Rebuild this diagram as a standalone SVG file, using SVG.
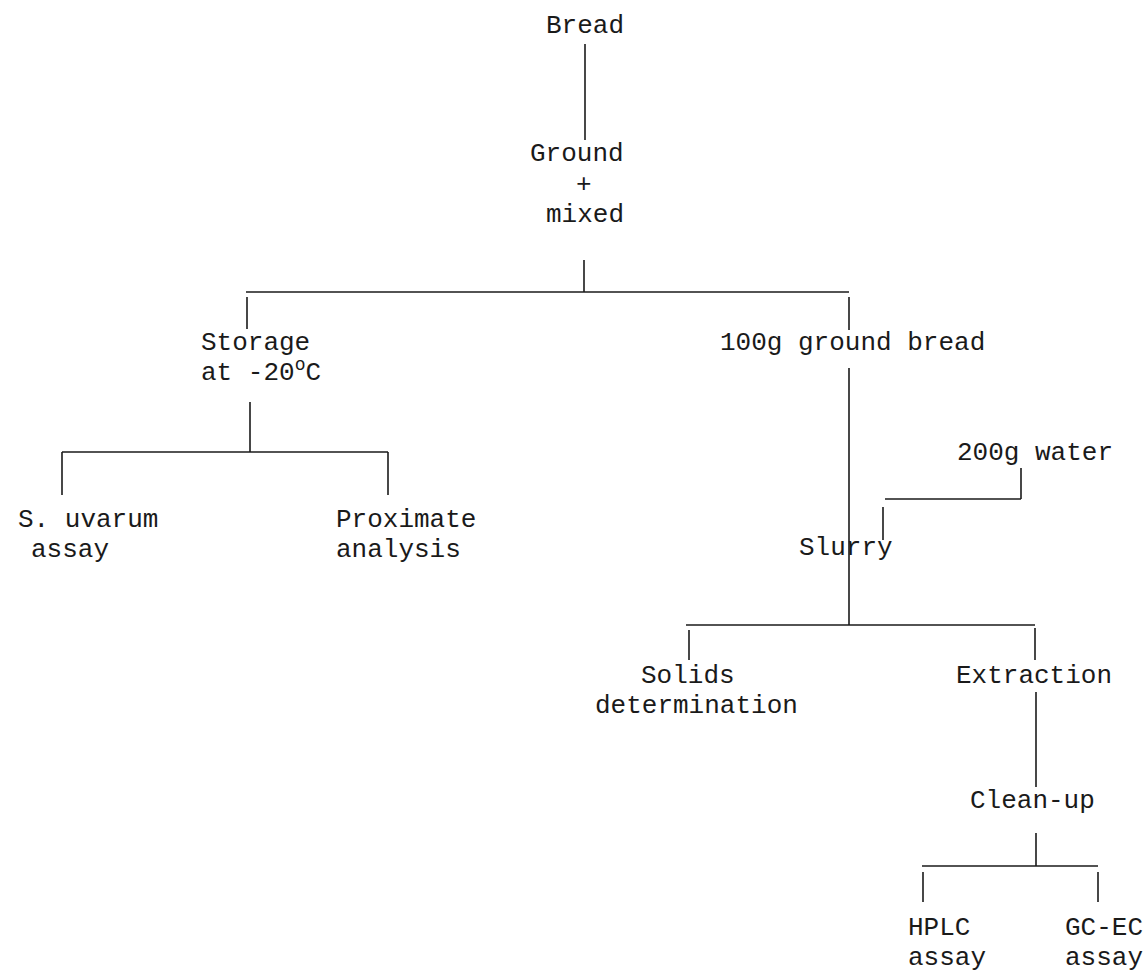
<svg xmlns="http://www.w3.org/2000/svg" width="1146" height="973" viewBox="0 0 1146 973">
<style>
text{font-family:"Liberation Mono","DejaVu Sans Mono",monospace;font-size:26px;fill:#1a1a1a}
.c line{stroke:#1a1a1a;stroke-width:1.6;fill:none}
</style>
<rect width="1146" height="973" fill="#fff"/>
<g class="c" id="connectors">
<line x1="585" y1="44" x2="585" y2="140"/>
<line x1="584" y1="260" x2="584" y2="292"/>
<line x1="246" y1="292" x2="849" y2="292"/>
<line x1="247" y1="297" x2="247" y2="329"/>
<line x1="849" y1="297" x2="849" y2="330"/>
<line x1="250" y1="402" x2="250" y2="452"/>
<line x1="62" y1="452" x2="388" y2="452"/>
<line x1="62" y1="452" x2="62" y2="495"/>
<line x1="388" y1="452" x2="388" y2="495"/>
<line x1="849" y1="368" x2="849" y2="625"/>
<line x1="1021" y1="468" x2="1021" y2="499"/>
<line x1="885" y1="499" x2="1021" y2="499"/>
<line x1="883" y1="507" x2="883" y2="540"/>
<line x1="686" y1="625" x2="1035" y2="625"/>
<line x1="689" y1="630" x2="689" y2="660"/>
<line x1="1035" y1="628" x2="1035" y2="660"/>
<line x1="1036" y1="692" x2="1036" y2="787"/>
<line x1="1036" y1="833" x2="1036" y2="866"/>
<line x1="922" y1="866" x2="1098" y2="866"/>
<line x1="923" y1="872" x2="923" y2="902"/>
<line x1="1098" y1="872" x2="1098" y2="902"/>
</g>
<g id="bread"><text x="546" y="33">Bread</text></g>
<g id="ground-mixed"><text x="530" y="161">Ground</text><text x="576" y="192">+</text><text x="546" y="222">mixed</text></g>
<g id="storage"><text x="201" y="350">Storage</text><text x="201" y="380">at -20<tspan dy="-10" font-size="18">o</tspan><tspan dy="10">C</tspan></text></g>
<g id="ground-bread"><text x="720" y="350">100g ground bread</text></g>
<g id="s-uvarum"><text x="18" y="527">S. uvarum</text><text x="31" y="557">assay</text></g>
<g id="proximate"><text x="336" y="527">Proximate</text><text x="336" y="557">analysis</text></g>
<g id="water"><text x="957" y="460">200g water</text></g>
<g id="slurry"><text x="799" y="555">Slurry</text></g>
<g id="solids"><text x="641" y="683">Solids</text><text x="595" y="713">determination</text></g>
<g id="extraction"><text x="956" y="683">Extraction</text></g>
<g id="cleanup"><text x="970" y="808">Clean-up</text></g>
<g id="hplc"><text x="908" y="935">HPLC</text><text x="908" y="965">assay</text></g>
<g id="gcec"><text x="1065" y="935">GC-EC</text><text x="1065" y="965">assay</text></g>
</svg>
